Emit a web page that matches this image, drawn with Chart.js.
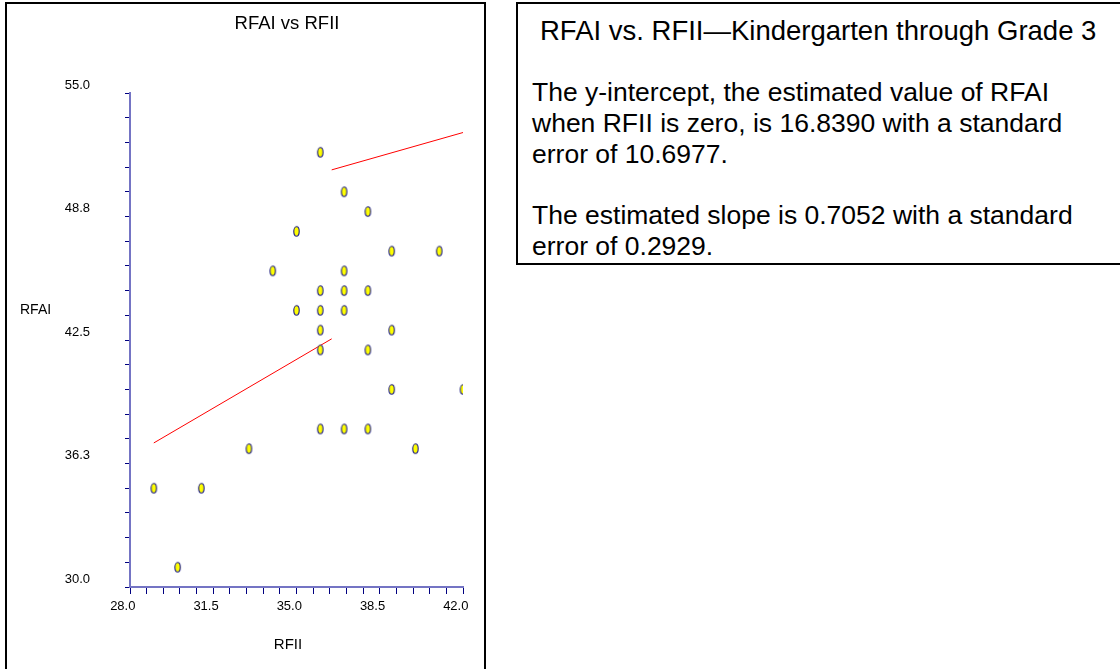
<!DOCTYPE html>
<html>
<head>
<meta charset="utf-8">
<script src="https://cdn.jsdelivr.net/npm/chart.js@4.4.1/dist/chart.umd.min.js"></script>
<style>
  html, body { margin: 0; padding: 0; background: #fff; width: 1120px; height: 669px; overflow: hidden; }
  body { font-family: 'Liberation Sans', Arial, sans-serif; color: #000; }
  #plotBox { position: absolute; left: 5px; top: 2px; width: 481px; height: 720px; border: 2px solid #000; box-sizing: border-box; }
  #plotWrap { position: absolute; left: 0; top: 0; width: 477px; height: 665px; }
  #notes { position: absolute; left: 516px; top: 2px; width: 660px; height: 263px; border: 2px solid #000; box-sizing: border-box;
           padding: 12px 0 0 14px; font-size: 26.5px; line-height: 30.7px; white-space: nowrap; }
  #notes .ttl { padding-left: 8px; font-size: 27.5px; }
  #notes .gap { height: 30.7px; }
</style>
</head>
<body>
<div id="plotBox"><div id="plotWrap"><canvas id="chart-rfai"></canvas></div></div>
<div id="notes">
  <div class="ttl">RFAI vs. RFII—Kindergarten through Grade 3</div>
  <div class="gap"></div>
  <div>The y-intercept, the estimated value of RFAI</div>
  <div>when RFII is zero, is 16.8390 with a standard</div>
  <div>error of 10.6977.</div>
  <div class="gap"></div>
  <div>The estimated slope is 0.7052 with a standard</div>
  <div>error of 0.2929.</div>
</div>
<script>
// observed scores (RFII on x, RFAI on y)
const rfii = [36, 37, 38, 35, 39, 41, 34, 37, 36, 37, 38, 35, 36, 37, 36, 39, 36, 38, 39, 42, 36, 37, 38, 40, 33, 29, 31, 30];
const rfai = [52, 50, 49, 48, 47, 47, 46, 46, 45, 45, 45, 44, 44, 44, 43, 43, 42, 42, 40, 40, 38, 38, 38, 37, 37, 35, 35, 31];

// fitted line as drawn: two pieces
const fitLowX = [29, 36.48];
const fitLowY = [37.29, 42.56];
const fitHighX = [36.48, 42];
const fitHighY = [51.11, 53.0];

const xTickLabels = ['28.0', '31.5', '35.0', '38.5', '42.0'];
const yTickLabels = ['30.0', '36.3', '42.5', '48.8', '55.0'];

const plotTitle = 'RFAI vs RFII';
const xTitle = 'RFII';
const yTitle = 'RFAI';

const FONT = "'Liberation Sans', Arial, sans-serif";
Chart.defaults.font.family = FONT;
Chart.defaults.color = '#000';

function toPoints(xs, ys) {
  return xs.map((x, i) => ({ x, y: ys[i] }));
}

// small yellow ellipse marker
function ellipseMarker() {
  const c = document.createElement('canvas');
  c.width = 9; c.height = 13;
  const g = c.getContext('2d');
  g.beginPath();
  g.ellipse(4.5, 6.5, 2.7, 4.7, 0, 0, Math.PI * 2);
  g.fillStyle = '#ffff00';
  g.fill();
  g.lineWidth = 1.1;
  g.strokeStyle = '#1c1c8a';
  g.stroke();
  return c;
}

const chartTexts = {
  id: 'chartTexts',
  afterDraw(chart) {
    const ctx = chart.ctx;
    ctx.save();
    ctx.fillStyle = '#000';
    ctx.textBaseline = 'middle';
    ctx.textAlign = 'center';
    ctx.font = '18.5px ' + FONT;
    ctx.fillText(plotTitle, 280, 20);
    ctx.font = '15px ' + FONT;
    ctx.fillText(xTitle, 281, 641);
    ctx.textAlign = 'left';
    ctx.font = '14px ' + FONT;
    ctx.fillText(yTitle, 13, 306);
    ctx.restore();
  }
};

const axisLine = '#7474c4';
const tickColor = '#000080';

new Chart(document.getElementById('chart-rfai'), {
  type: 'scatter',
  data: {
    datasets: [
      {
        label: 'RFAI',
        data: toPoints(rfii, rfai),
        pointStyle: ellipseMarker(),
        pointRadius: 5
      },
      {
        label: 'fit',
        data: toPoints(fitLowX, fitLowY),
        showLine: true,
        borderColor: '#ff0000',
        borderWidth: 1,
        pointRadius: 0
      },
      {
        label: 'fit2',
        data: toPoints(fitHighX, fitHighY),
        showLine: true,
        borderColor: '#ff0000',
        borderWidth: 1,
        pointRadius: 0
      }
    ]
  },
  options: {
    responsive: true,
    maintainAspectRatio: false,
    animation: false,
    layout: { padding: { left: 0, top: 89, right: 21, bottom: 0 } },
    plugins: {
      legend: { display: false },
      tooltip: { enabled: false }
    },
    scales: {
      x: {
        type: 'linear',
        min: 28,
        max: 42,
        afterFit: (scale) => {
          scale.height = 82;
          scale.paddingLeft = 0;
          scale.paddingRight = 0;
        },
        border: { color: axisLine, width: 2 },
        grid: { drawOnChartArea: false, color: tickColor, tickLength: 7 },
        ticks: {
          stepSize: 0.7,
          autoSkip: false,
          maxRotation: 0,
          padding: 5,
          font: { size: 13 },
          // labels sit a little left of their tick in the original
          callback: (value, index) => index % 5 === 0 ? xTickLabels[index / 5] + '    ' : ''
        }
      },
      y: {
        type: 'linear',
        min: 30,
        max: 55,
        afterFit: (scale) => { scale.width = 123; },
        border: { color: axisLine, width: 2 },
        grid: { drawOnChartArea: false, color: tickColor, tickLength: 5 },
        ticks: {
          stepSize: 1.25,
          autoSkip: false,
          padding: 35,
          font: { size: 13 },
          callback: (value, index) => index % 5 === 0 ? [yTickLabels[index / 5], ''] : ''
        }
      }
    }
  },
  plugins: [chartTexts]
});
</script>
</body>
</html>
